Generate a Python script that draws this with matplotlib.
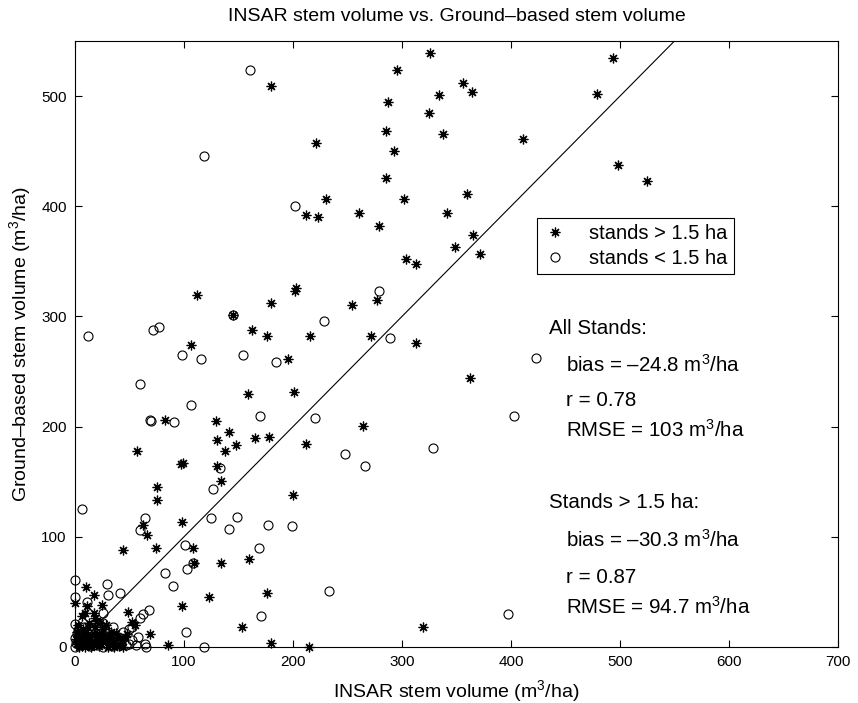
import numpy as np
import matplotlib
matplotlib.use("Agg")
import matplotlib.pyplot as plt

plt.rcParams['font.family'] = ['Liberation Sans', 'DejaVu Sans']
plt.rcParams['mathtext.fontset'] = 'custom'
plt.rcParams['mathtext.rm'] = 'Liberation Sans'
plt.rcParams['mathtext.it'] = 'Liberation Sans'

# stands > 1.5 ha (INSAR, ground-based)
big = [(180, 509), (221, 457), (212, 392), (223, 390), (326, 539), (295, 524), (356, 512),
       (364, 504), (334, 501), (287, 495), (325, 485), (285, 468), (338, 466), (293, 450),
       (411, 461), (285, 426), (230, 407), (302, 407), (360, 411), (261, 394), (341, 394),
       (279, 382), (365, 374), (349, 363), (494, 535), (479, 502), (498, 437), (525, 423),
       (372, 357), (304, 352), (313, 348), (277, 315), (254, 310), (216, 282), (272, 282),
       (313, 276), (362, 244), (264, 201), (212, 184), (319, 18), (215, 0),
       (112, 319), (202, 323), (203, 326), (145, 301), (180, 312), (162, 288), (176, 282),
       (106, 274), (195, 261), (159, 230), (201, 231), (83, 206), (129, 205), (141, 195),
       (130, 188), (148, 183), (138, 178), (165, 190), (178, 191), (57, 178),
       (97, 166), (99, 167), (130, 164), (134, 151), (75, 145), (75, 133), (200, 138),
       (62, 111), (66, 102), (98, 113), (44, 88), (74, 90), (108, 90), (109, 76), (134, 76),
       (160, 80), (123, 45), (176, 49), (153, 18), (98, 37), (69, 12), (85, 2), (180, 4),
       (49, 32), (55, 20), (52, 23), (10, 54), (17, 47), (25, 38), (0, 40), (11, 37), (9, 31),
       (17, 31), (6, 28), (18, 26), (23, 22),
       (2, 3), (4, 10), (6, 1), (8, 6), (10, 14), (12, 2), (14, 9), (16, 4), (18, 18), (20, 7),
       (22, 12), (24, 3), (26, 16), (28, 6), (30, 10), (32, 2), (34, 8), (36, 4), (38, 13),
       (40, 1), (43, 6), (46, 9), (3, 20), (7, 16), (13, 22), (20, 24), (28, 20), (1, 7),
       (9, 0), (15, 0), (22, 1), (30, 0), (36, 0), (44, 0), (5, 5), (11, 10), (19, 3),
       (27, 11), (33, 14), (48, 12), (2, 14), (7, 11), (13, 5), (17, 12), (25, 8), (31, 5),
       (39, 9), (42, 2), (4, 0), (12, 18)]

# stands < 1.5 ha
small = [(161, 524), (118, 446), (202, 400), (279, 323), (228, 296), (289, 280), (423, 262),
         (220, 208), (403, 210), (248, 175), (328, 181), (266, 164), (233, 51), (397, 30),
         (145, 301), (12, 282), (72, 288), (77, 290), (98, 265), (116, 261), (154, 265),
         (184, 259), (60, 239), (106, 220), (170, 210), (69, 206), (70, 205), (91, 204),
         (133, 162), (127, 143), (6, 125), (64, 117), (60, 106), (125, 117), (149, 118),
         (141, 107), (177, 111), (199, 110), (169, 90), (101, 93), (108, 76), (103, 71),
         (83, 67), (90, 55), (171, 28), (102, 14), (64, 3), (118, 0), (68, 34), (62, 30),
         (60, 26), (50, 16), (52, 18), (41, 49), (29, 57), (30, 47), (0, 61), (0, 45), (11, 41),
         (26, 31), (26, 22), (0, 21), (42, 4), (47, 2), (50, 3), (65, 0),
         (0, 0), (1, 4), (2, 12), (4, 2), (6, 8), (8, 18), (10, 4), (12, 12), (14, 1), (16, 7),
         (18, 10), (20, 2), (22, 16), (24, 6), (26, 0), (28, 3), (30, 14), (32, 6), (34, 1),
         (37, 9), (40, 3), (44, 14), (52, 6), (56, 2), (0, 8), (3, 15), (14, 16), (20, 12),
         (35, 18), (58, 9)]

big_x = [p[0] for p in big]
big_y = [p[1] for p in big]
small_x = [p[0] for p in small]
small_y = [p[1] for p in small]

# 1:1 line
line_x = [20, 550]
line_y = [20, 550]

stats_all = ["All Stands:", "bias = \u201324.8 m$^3$/ha", "r = 0.78", "RMSE = 103 m$^3$/ha"]
stats_big = ["Stands > 1.5 ha:", "bias = \u201330.3 m$^3$/ha", "r = 0.87", "RMSE = 94.7 m$^3$/ha"]

fig = plt.figure(figsize=(8.58, 7.03), dpi=100)
ax = fig.add_axes([0.0874, 0.0797, 0.8893, 0.862])

h1, = ax.plot(big_x, big_y, ls='none', marker=(8, 2, 0), ms=7, mec='k', mew=0.9,
              clip_on=False, label='stands > 1.5 ha')
h2, = ax.plot(small_x, small_y, ls='none', marker='o', ms=6.5, mfc='none', mec='k',
              mew=0.8, clip_on=False, label='stands < 1.5 ha')
ax.plot(line_x, line_y, color='k', lw=0.8)

ax.set_xlim(0, 700)
ax.set_ylim(0, 550)
ax.set_xticks(np.arange(0, 701, 100))
ax.set_yticks(np.arange(0, 501, 100))
ax.tick_params(direction='in', length=5, width=0.8, top=True, right=True, labelsize=11, pad=6)
for s in ax.spines.values():
    s.set_linewidth(0.8)

fig.text(0.532, 0.977, "INSAR stem volume vs. Ground\u2013based stem volume", ha='center',
         va='center', fontsize=14)
ax.set_xlabel("INSAR stem volume (m$^3$/ha)", fontsize=14, labelpad=6)
ax.set_ylabel("Ground\u2013based stem volume (m$^3$/ha)", fontsize=14, labelpad=6)

leg = ax.legend(handles=[h1, h2], loc='upper left', bbox_to_anchor=(0.6055, 0.708),
                borderaxespad=0, fontsize=14.5, fancybox=False, edgecolor='k', framealpha=1,
                borderpad=0.3, labelspacing=0.3, handlelength=1.2, handletextpad=1.1)
leg.get_frame().set_linewidth(0.8)

ys_all = [289, 256, 224, 197]
ys_big = [131, 97, 63, 36]
for i, t in enumerate(stats_all):
    ax.text(435 if i == 0 else 450, ys_all[i], t, fontsize=14.8, va='center')
for i, t in enumerate(stats_big):
    ax.text(435 if i == 0 else 450, ys_big[i], t, fontsize=14.8, va='center')

fig.savefig("out.png", dpi=100)
